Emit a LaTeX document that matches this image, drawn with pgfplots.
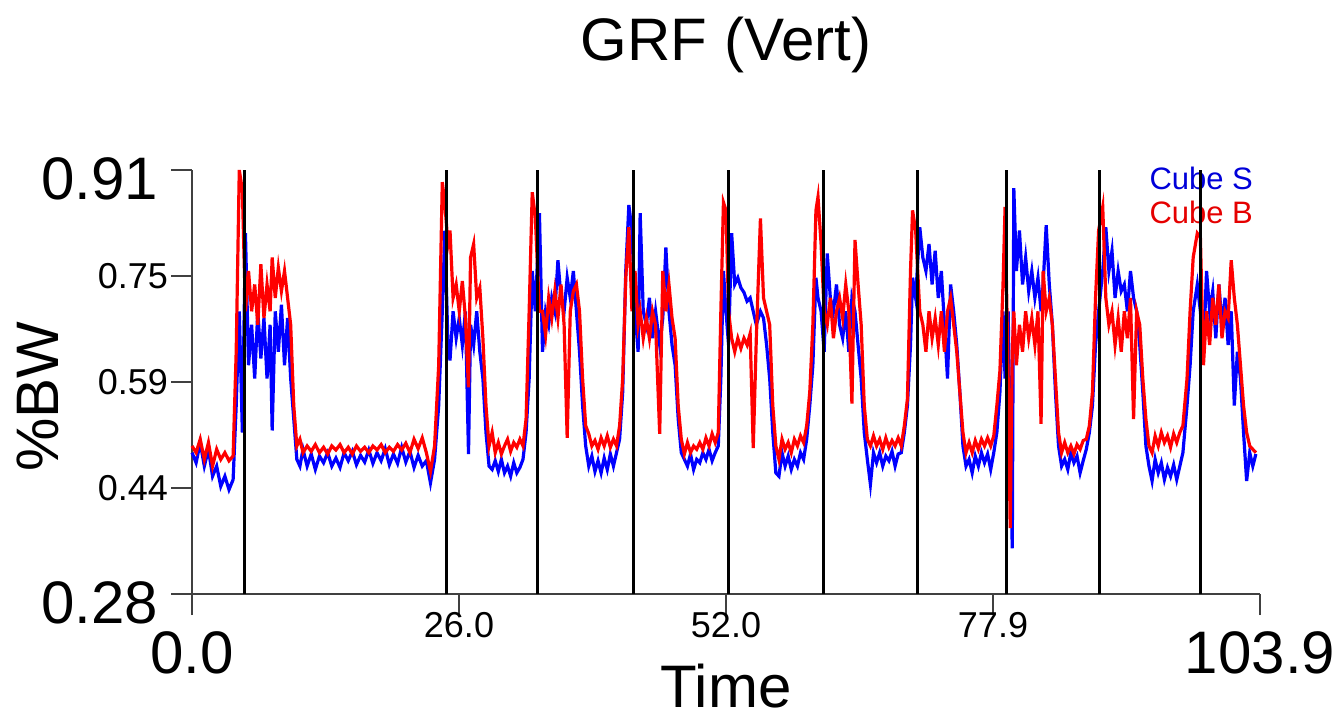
\documentclass[border=0pt]{standalone}
\usepackage{fontspec}
\setmainfont{Liberation Sans}
\usepackage{pgfplots}
\usepackage{pgfplotstable}
\pgfplotsset{compat=1.18}

% time, Cube S, Cube B
\pgfplotstableread{
t S B
0.0 0.490 0.500
0.4 0.475 0.490
0.8 0.505 0.510
1.2 0.470 0.480
1.6 0.495 0.505
2.0 0.455 0.470
2.4 0.470 0.495
2.8 0.440 0.480
3.2 0.455 0.490
3.6 0.435 0.478
4.0 0.450 0.485
4.3 0.560 0.640
4.6 0.700 0.910
4.9 0.520 0.880
5.2 0.816 0.700
5.5 0.620 0.760
5.8 0.680 0.700
6.1 0.600 0.740
6.4 0.700 0.680
6.7 0.630 0.770
7.0 0.690 0.690
7.3 0.600 0.740
7.6 0.680 0.700
7.8 0.523 0.780
8.1 0.700 0.720
8.4 0.640 0.765
8.7 0.710 0.730
9.0 0.620 0.760
9.3 0.690 0.720
9.6 0.600 0.680
9.9 0.540 0.560
10.2 0.480 0.500
10.5 0.470 0.510
10.8 0.495 0.490
11.2 0.470 0.500
11.6 0.488 0.492
12.0 0.465 0.502
12.4 0.485 0.490
12.8 0.475 0.498
13.2 0.490 0.488
13.6 0.470 0.500
14.0 0.482 0.494
14.4 0.468 0.502
14.8 0.490 0.490
15.2 0.478 0.498
15.6 0.492 0.488
16.0 0.472 0.500
16.4 0.486 0.492
16.8 0.476 0.498
17.2 0.494 0.490
17.6 0.474 0.500
18.0 0.490 0.494
18.4 0.478 0.502
18.8 0.496 0.490
19.2 0.472 0.498
19.6 0.488 0.492
20.0 0.474 0.502
20.4 0.498 0.494
20.8 0.476 0.504
21.2 0.492 0.490
21.6 0.468 0.510
22.0 0.486 0.496
22.4 0.470 0.512
22.8 0.478 0.490
23.2 0.445 0.462
23.6 0.480 0.500
24.0 0.560 0.620
24.35 0.700 0.892
24.6 0.820 0.860
24.9 0.650 0.800
25.1 0.627 0.820
25.4 0.700 0.720
25.7 0.660 0.740
26.0 0.690 0.700
26.3 0.650 0.745
26.6 0.700 0.690
26.9 0.488 0.587
27.1 0.680 0.780
27.4 0.650 0.800
27.7 0.700 0.720
28.0 0.640 0.735
28.3 0.600 0.660
28.6 0.520 0.560
28.9 0.470 0.500
29.2 0.465 0.520
29.5 0.478 0.490
29.8 0.462 0.505
30.1 0.480 0.488
30.4 0.460 0.500
30.7 0.470 0.510
31.0 0.455 0.492
31.3 0.475 0.505
31.6 0.460 0.498
31.9 0.468 0.510
32.2 0.480 0.500
32.5 0.520 0.540
32.8 0.600 0.700
33.1 0.760 0.877
33.4 0.700 0.840
33.8 0.846 0.700
34.1 0.640 0.700
34.4 0.700 0.665
34.7 0.680 0.720
35.0 0.720 0.690
35.3 0.700 0.730
35.6 0.776 0.690
35.9 0.720 0.740
36.2 0.700 0.680
36.5 0.750 0.512
36.8 0.720 0.700
37.1 0.760 0.730
37.4 0.700 0.740
37.7 0.640 0.700
38.0 0.560 0.600
38.3 0.500 0.530
38.6 0.470 0.518
38.9 0.485 0.500
39.2 0.462 0.508
39.5 0.478 0.495
39.8 0.460 0.512
40.1 0.482 0.500
40.4 0.465 0.515
40.7 0.488 0.498
41.0 0.470 0.510
41.3 0.490 0.500
41.6 0.510 0.530
41.9 0.580 0.600
42.2 0.760 0.750
42.5 0.858 0.825
42.8 0.820 0.700
43.1 0.700 0.760
43.4 0.640 0.680
43.6 0.846 0.700
43.9 0.700 0.660
44.2 0.680 0.690
44.5 0.720 0.660
44.8 0.660 0.700
45.1 0.700 0.680
45.5 0.650 0.518
45.8 0.690 0.760
46.1 0.795 0.700
46.4 0.700 0.740
46.7 0.650 0.690
47.0 0.620 0.660
47.3 0.540 0.560
47.6 0.490 0.510
47.9 0.480 0.488
48.2 0.470 0.505
48.5 0.488 0.490
48.8 0.465 0.500
49.1 0.480 0.495
49.4 0.475 0.505
49.7 0.490 0.495
50.0 0.480 0.512
50.3 0.495 0.500
50.6 0.478 0.518
50.9 0.490 0.505
51.2 0.500 0.520
51.45 0.600 0.700
51.7 0.760 0.862
51.95 0.700 0.850
52.2 0.650 0.700
52.5 0.816 0.660
52.8 0.740 0.640
53.1 0.750 0.660
53.4 0.735 0.645
53.7 0.728 0.660
54.0 0.715 0.650
54.3 0.720 0.667
54.6 0.700 0.497
54.9 0.680 0.660
55.3 0.700 0.838
55.6 0.690 0.720
55.9 0.650 0.700
56.2 0.600 0.680
56.5 0.520 0.560
56.8 0.460 0.500
57.1 0.455 0.480
57.4 0.490 0.510
57.7 0.470 0.495
58.0 0.485 0.505
58.3 0.465 0.490
58.6 0.480 0.510
58.9 0.470 0.500
59.2 0.490 0.515
59.5 0.480 0.505
59.8 0.510 0.530
60.1 0.560 0.580
60.4 0.620 0.680
60.7 0.750 0.850
60.9 0.720 0.870
61.2 0.700 0.800
61.5 0.640 0.700
61.8 0.786 0.680
62.1 0.720 0.720
62.4 0.700 0.660
62.7 0.740 0.700
63.0 0.680 0.720
63.3 0.660 0.690
63.6 0.700 0.740
63.9 0.640 0.700
64.2 0.720 0.563
64.5 0.700 0.806
64.8 0.650 0.740
65.1 0.600 0.680
65.4 0.520 0.560
65.7 0.480 0.510
66.0 0.443 0.500
66.3 0.490 0.515
66.6 0.475 0.500
66.9 0.490 0.510
67.2 0.470 0.495
67.5 0.485 0.512
67.8 0.478 0.498
68.1 0.492 0.508
68.4 0.470 0.500
68.7 0.488 0.512
69.0 0.490 0.500
69.3 0.520 0.530
69.6 0.560 0.570
69.9 0.650 0.760
70.1 0.750 0.850
70.4 0.720 0.820
70.8 0.825 0.700
71.1 0.780 0.680
71.4 0.760 0.640
71.7 0.800 0.700
72.0 0.740 0.660
72.3 0.790 0.690
72.6 0.720 0.650
72.9 0.760 0.700
73.2 0.680 0.640
73.5 0.600 0.700
73.8 0.740 0.720
74.1 0.700 0.680
74.4 0.650 0.640
74.7 0.580 0.580
75.0 0.500 0.520
75.3 0.470 0.490
75.6 0.480 0.505
75.9 0.460 0.490
76.2 0.485 0.508
76.5 0.470 0.495
76.8 0.490 0.510
77.1 0.475 0.500
77.4 0.488 0.512
77.7 0.465 0.500
78.0 0.490 0.515
78.3 0.520 0.560
78.6 0.580 0.612
78.9 0.700 0.740
79.1 0.600 0.855
79.4 0.700 0.600
79.6 0.500 0.378
79.8 0.348 0.640
79.95 0.883 0.700
80.2 0.760 0.620
80.5 0.820 0.680
80.8 0.740 0.640
81.1 0.780 0.700
81.4 0.730 0.660
81.7 0.760 0.690
82.0 0.720 0.650
82.3 0.750 0.700
82.6 0.700 0.533
82.8 0.740 0.760
83.1 0.828 0.700
83.4 0.740 0.720
83.7 0.680 0.680
84.0 0.580 0.600
84.3 0.500 0.520
84.6 0.470 0.490
84.9 0.480 0.505
85.2 0.465 0.490
85.5 0.490 0.500
85.8 0.475 0.488
86.1 0.485 0.502
86.4 0.460 0.495
86.7 0.478 0.508
87.0 0.495 0.510
87.3 0.520 0.530
87.6 0.560 0.580
87.9 0.650 0.720
88.2 0.700 0.820
88.6 0.760 0.855
88.9 0.825 0.720
89.2 0.760 0.680
89.5 0.790 0.700
89.8 0.720 0.650
90.1 0.760 0.690
90.4 0.730 0.640
90.7 0.740 0.700
91.0 0.700 0.660
91.3 0.760 0.720
91.6 0.720 0.540
91.9 0.700 0.700
92.2 0.650 0.680
92.5 0.580 0.600
92.8 0.500 0.540
93.1 0.470 0.500
93.4 0.448 0.490
93.7 0.480 0.515
94.0 0.460 0.500
94.3 0.475 0.520
94.6 0.450 0.505
94.9 0.468 0.515
95.2 0.455 0.498
95.5 0.472 0.518
95.8 0.450 0.505
96.1 0.470 0.520
96.4 0.490 0.530
96.8 0.560 0.600
97.1 0.620 0.700
97.4 0.700 0.780
97.8 0.740 0.816
98.1 0.700 0.810
98.4 0.640 0.620
98.7 0.760 0.700
99.0 0.700 0.650
99.3 0.730 0.720
99.6 0.660 0.680
99.9 0.740 0.740
100.2 0.680 0.660
100.5 0.720 0.700
100.8 0.650 0.690
101.1 0.700 0.776
101.4 0.560 0.720
101.7 0.640 0.680
102.0 0.600 0.620
102.3 0.520 0.560
102.6 0.448 0.520
102.9 0.490 0.500
103.2 0.470 0.495
103.5 0.488 0.490
}\grf

% event markers (vertical lines)
\pgfplotstableread{
x y
5.09 0.28
5.09 0.91
nan nan
24.78 0.28
24.78 0.91
nan nan
33.59 0.28
33.59 0.91
nan nan
42.93 0.28
42.93 0.91
nan nan
52.24 0.28
52.24 0.91
nan nan
61.42 0.28
61.42 0.91
nan nan
70.56 0.28
70.56 0.91
nan nan
79.26 0.28
79.26 0.91
nan nan
88.24 0.28
88.24 0.91
nan nan
98.07 0.28
98.07 0.91
}\events

\newcommand{\bigfont}{\fontsize{30}{30}\selectfont}
\newcommand{\smallfont}{\fontsize{18}{18}\selectfont}

\begin{document}
\begin{tikzpicture}
\useasboundingbox (-96pt,-62.5pt) rectangle (574pt,297pt);
\begin{axis}[
  at={(0pt,0pt)}, anchor=south west,
  scale only axis, width=534pt, height=212pt,
  xmin=0, xmax=103.9, ymin=0.28, ymax=0.91,
  axis x line*=bottom, axis y line*=left,
  axis line style={line width=0.8pt, black!75},
  tick style={line width=0.8pt, black!75},
  tick align=outside, major tick length=10.5pt,
  xtick={25.975,51.95,77.925},
  xticklabels={26.0,52.0,77.9},
  xticklabel style={yshift=5pt},
  extra x ticks={0,103.9},
  extra x tick labels={0.0,103.9},
  extra x tick style={xticklabel style={font=\bigfont, yshift=-10pt}},
  ytick={0.4375,0.595,0.7525},
  yticklabels={0.44,0.59,0.75},
  yticklabel style={xshift=2pt},
  extra y ticks={0.28,0.91},
  extra y tick labels={0.28,0.91},
  extra y tick style={yticklabel style={font=\bigfont, yshift=-4.5pt, xshift=-5pt}},
  ticklabel style={font=\smallfont},
  /pgf/number format/assume math mode=true,
  title={GRF (Vert)},
  title style={font=\bigfont, at={(0.5,1)}, anchor=base, yshift=49pt},
  xlabel={Time},
  xlabel style={font=\bigfont, at={(rel axis cs:0.5,0)}, anchor=center, yshift=-46pt},
  ylabel={\%BW},
  ylabel style={font=\bigfont, at={(rel axis cs:0,0.465)}, anchor=center, yshift=77pt},
  clip=false,
]
\addplot[blue, line width=1.6pt] table[x=t, y=S] {\grf};
\addplot[red, line width=1.6pt] table[x=t, y=B] {\grf};
\node[anchor=east, text=blue!85!black, font=\fontsize{15.5}{15.5}\selectfont] at (rel axis cs:1.0,0.981) {Cube S};
\node[anchor=east, text=red!90!black, font=\fontsize{15.5}{15.5}\selectfont] at (rel axis cs:1.0,0.901) {Cube B};
\addplot[black, line width=1.5pt, unbounded coords=jump] table[x=x, y=y] {\events};
\end{axis}
\end{tikzpicture}
\end{document}
